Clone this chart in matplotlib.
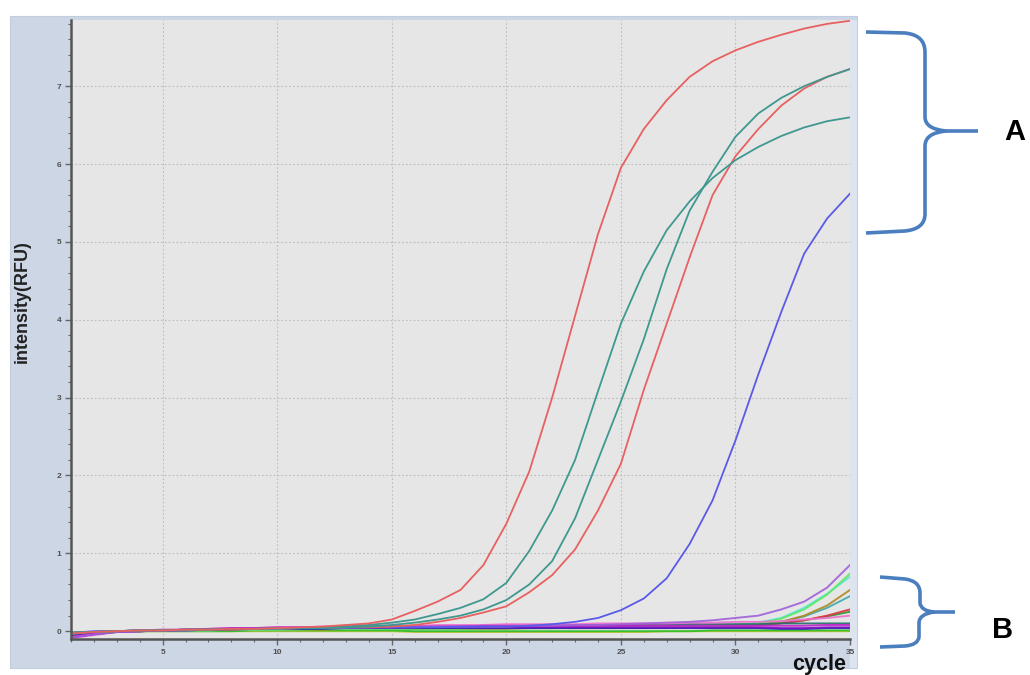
import matplotlib
matplotlib.use("Agg")
import matplotlib.pyplot as plt
from matplotlib.patches import Rectangle, PathPatch
from matplotlib.path import Path
from matplotlib.ticker import MultipleLocator

plt.rcParams['font.family'] = ['Liberation Sans', 'DejaVu Sans']

cycles = list(range(1, 36))

# curves that amplify (group A)
red_a = [-0.03, -0.01, 0.0, 0.01, 0.01, 0.02, 0.02, 0.03, 0.03, 0.04, 0.05, 0.06, 0.08, 0.10, 0.15,
         0.26, 0.38, 0.53, 0.85, 1.38, 2.05, 3.00, 4.05, 5.10, 5.95, 6.45, 6.82, 7.12, 7.32, 7.46,
         7.57, 7.66, 7.74, 7.80, 7.84]
teal_a = [-0.02, -0.01, 0.0, 0.01, 0.01, 0.02, 0.02, 0.03, 0.03, 0.04, 0.04, 0.05, 0.06, 0.08, 0.11,
          0.15, 0.22, 0.30, 0.41, 0.62, 1.03, 1.55, 2.20, 3.08, 3.95, 4.62, 5.15, 5.52, 5.82, 6.05,
          6.22, 6.36, 6.47, 6.55, 6.60]
teal_b = [-0.02, -0.01, 0.0, 0.01, 0.01, 0.02, 0.02, 0.03, 0.03, 0.03, 0.04, 0.04, 0.05, 0.06, 0.08,
          0.11, 0.15, 0.20, 0.28, 0.40, 0.60, 0.90, 1.45, 2.20, 2.95, 3.75, 4.65, 5.40, 5.90, 6.35,
          6.65, 6.85, 7.00, 7.12, 7.22]
red_b = [-0.02, -0.01, 0.0, 0.01, 0.01, 0.02, 0.02, 0.02, 0.03, 0.03, 0.04, 0.04, 0.05, 0.05, 0.06,
         0.08, 0.12, 0.17, 0.24, 0.32, 0.50, 0.72, 1.05, 1.55, 2.15, 3.10, 3.95, 4.80, 5.60, 6.10,
         6.45, 6.75, 6.97, 7.12, 7.22]
blue_a = [-0.02, 0.0, 0.0, 0.01, 0.01, 0.02, 0.02, 0.03, 0.03, 0.03, 0.04, 0.04, 0.04, 0.05, 0.05,
          0.05, 0.05, 0.06, 0.06, 0.06, 0.07, 0.09, 0.12, 0.17, 0.27, 0.42, 0.68, 1.12, 1.68, 2.45,
          3.30, 4.10, 4.85, 5.30, 5.62]

# late / non-amplifying curves (group B)
purple_b = [-0.08, -0.04, -0.01, 0.0, 0.01, 0.01, 0.02, 0.03, 0.03, 0.04, 0.04, 0.05, 0.05, 0.05, 0.05,
            0.05, 0.06, 0.06, 0.06, 0.06, 0.07, 0.07, 0.08, 0.08, 0.09, 0.10, 0.11, 0.12, 0.14, 0.17,
            0.20, 0.28, 0.38, 0.56, 0.85]
green_b = [-0.05, -0.02, 0.0, 0.0, 0.01, 0.01, 0.01, 0.02, 0.02, 0.02, 0.02, 0.03, 0.03, 0.03, 0.03,
           0.03, 0.03, 0.03, 0.04, 0.04, 0.04, 0.04, 0.04, 0.05, 0.05, 0.05, 0.05, 0.06, 0.07, 0.08,
           0.10, 0.16, 0.28, 0.47, 0.74]
cyan_b = [-0.04, -0.02, 0.0, 0.0, 0.01, 0.01, 0.01, 0.02, 0.02, 0.02, 0.03, 0.03, 0.03, 0.03, 0.03,
          0.04, 0.04, 0.04, 0.04, 0.04, 0.04, 0.05, 0.05, 0.05, 0.05, 0.05, 0.06, 0.06, 0.07, 0.08,
          0.11, 0.17, 0.30, 0.48, 0.70]
brown_b = [-0.03, -0.01, 0.0, 0.0, 0.01, 0.01, 0.01, 0.02, 0.02, 0.02, 0.02, 0.02, 0.03, 0.03, 0.03,
           0.03, 0.03, 0.03, 0.03, 0.03, 0.04, 0.04, 0.04, 0.04, 0.04, 0.04, 0.05, 0.05, 0.05, 0.06,
           0.08, 0.12, 0.20, 0.33, 0.53]
tealish_b = [-0.03, -0.01, 0.0, 0.01, 0.01, 0.01, 0.02, 0.02, 0.02, 0.03, 0.03, 0.03, 0.03, 0.04, 0.04,
             0.04, 0.04, 0.04, 0.04, 0.05, 0.05, 0.05, 0.05, 0.05, 0.05, 0.06, 0.06, 0.06, 0.06, 0.07,
             0.08, 0.12, 0.19, 0.30, 0.45]
red_c = [-0.05, -0.02, 0.0, 0.0, 0.01, 0.01, 0.02, 0.02, 0.03, 0.03, 0.03, 0.04, 0.04, 0.04, 0.04,
         0.04, 0.04, 0.05, 0.05, 0.05, 0.05, 0.05, 0.05, 0.06, 0.06, 0.06, 0.06, 0.06, 0.07, 0.07,
         0.08, 0.10, 0.14, 0.20, 0.28]
green_c = [-0.04, -0.02, 0.0, 0.0, 0.01, 0.01, 0.01, 0.02, 0.02, 0.02, 0.02, 0.03, 0.03, 0.03, 0.03,
           0.03, 0.04, 0.04, 0.04, 0.04, 0.04, 0.04, 0.05, 0.05, 0.05, 0.05, 0.06, 0.06, 0.07, 0.08,
           0.09, 0.11, 0.14, 0.19, 0.25]
pink_b = [-0.09, -0.05, -0.01, 0.0, 0.01, 0.02, 0.03, 0.04, 0.04, 0.05, 0.05, 0.06, 0.06, 0.07, 0.07,
          0.07, 0.08, 0.08, 0.08, 0.09, 0.09, 0.09, 0.09, 0.10, 0.10, 0.10, 0.10, 0.11, 0.11, 0.12,
          0.12, 0.13, 0.15, 0.17, 0.20]
darkteal_b = [-0.03, -0.01, 0.0, 0.01, 0.01, 0.02, 0.02, 0.03, 0.03, 0.04, 0.04, 0.05, 0.05, 0.05, 0.06,
              0.06, 0.06, 0.06, 0.07, 0.07, 0.07, 0.07, 0.08, 0.08, 0.08, 0.08, 0.08, 0.09, 0.09, 0.09,
              0.09, 0.10, 0.10, 0.10, 0.10]
magenta_b = [-0.07, -0.03, 0.0, 0.01, 0.02, 0.02, 0.03, 0.04, 0.04, 0.05, 0.05, 0.05, 0.06, 0.06, 0.06,
             0.06, 0.06, 0.06, 0.07, 0.07, 0.07, 0.07, 0.07, 0.07, 0.07, 0.07, 0.07, 0.07, 0.07, 0.07,
             0.07, 0.07, 0.07, 0.08, 0.08]
violet_b = [-0.08, -0.04, -0.01, 0.0, 0.01, 0.02, 0.02, 0.03, 0.03, 0.04, 0.04, 0.04, 0.05, 0.05, 0.05,
            0.05, 0.05, 0.05, 0.05, 0.05, 0.05, 0.05, 0.05, 0.05, 0.05, 0.05, 0.05, 0.05, 0.05, 0.05,
            0.05, 0.04, 0.04, 0.05, 0.05]
navy_b = [-0.06, -0.03, 0.0, 0.0, 0.01, 0.01, 0.02, 0.02, 0.03, 0.03, 0.03, 0.03, 0.04, 0.04, 0.04,
          0.04, 0.04, 0.04, 0.04, 0.04, 0.04, 0.04, 0.04, 0.04, 0.04, 0.04, 0.04, 0.04, 0.04, 0.04,
          0.04, 0.03, 0.03, 0.04, 0.04]
lime_b = [-0.02, -0.01, 0.0, 0.0, 0.0, 0.0, 0.0, 0.0, 0.01, 0.01, 0.01, 0.01, 0.01, 0.01, 0.01,
          0.0, 0.0, 0.0, 0.0, 0.0, 0.0, 0.0, 0.0, 0.0, 0.0, 0.0, 0.0, 0.0, 0.01, 0.01,
          0.01, 0.01, 0.01, 0.01, 0.01]
yellow_b = [-0.02, -0.01, 0.0, 0.0, 0.0, 0.0, 0.0, 0.0, 0.0, 0.0, 0.0, 0.0, 0.0, 0.0, 0.0,
            -0.01, -0.01, -0.01, -0.01, -0.01, -0.01, -0.01, -0.01, -0.01, -0.01, -0.01, 0.0, 0.0, 0.0, 0.0,
            0.0, 0.0, 0.0, 0.0, 0.0]

group_b = [
    (yellow_b, '#c8c030'), (lime_b, '#2ac02a'), (green_c, '#2a9a2a'), (red_c, '#e03040'),
    (tealish_b, '#40a8b0'), (brown_b, '#b08a20'), (cyan_b, '#50e8d8'), (green_b, '#60e860'),
    (darkteal_b, '#1f6f6a'), (pink_b, '#f070d0'), (navy_b, '#2020b0'), (violet_b, '#8010c8'),
    (magenta_b, '#c020c8'), (purple_b, '#a060d8'),
]
group_a = [
    (blue_a, '#5a5ae8'), (red_b, '#e86060'), (teal_b, '#3f9890'), (teal_a, '#3f9890'), (red_a, '#e86060'),
]

W, H = 1030, 675
fig = plt.figure(figsize=(W / 100, H / 100), dpi=100)
fig.patch.set_facecolor('white')

# light blue panel behind the plot
fig.patches.append(Rectangle((10 / W, 1 - 668 / H), 847 / W, 652 / H, transform=fig.transFigure,
                             facecolor='#cdd6e5', edgecolor='#c3cde0', lw=0.8, zorder=-10))
fig.patches.append(Rectangle((850 / W, 1 - 668 / H), 7 / W, 648 / H, transform=fig.transFigure,
                             facecolor='#dde4ef', edgecolor='none', zorder=-9))

ax = fig.add_axes([71 / W, 1 - 639 / H, 779 / W, 619 / H])
ax.set_zorder(1)
ax.set_facecolor('#e6e6e6')

for vals, col in group_b:
    ax.plot(cycles, vals, color=col, lw=1.4, alpha=0.9)
for vals, col in group_a:
    ax.plot(cycles, vals, color=col, lw=1.3)

ax.set_xlim(1, 35)
ax.set_ylim(-0.1, 7.85)
ax.xaxis.set_major_locator(MultipleLocator(5))
ax.xaxis.set_minor_locator(MultipleLocator(1))
ax.yaxis.set_major_locator(MultipleLocator(1))
ax.yaxis.set_minor_locator(MultipleLocator(0.2))
ax.grid(True, which='major', color='#bdbdbd', lw=0.8, ls=(0, (1.5, 2)))
ax.set_axisbelow(True)

for side in ('top', 'right'):
    ax.spines[side].set_visible(False)
for side in ('left', 'bottom'):
    ax.spines[side].set_color('#555555')
    ax.spines[side].set_linewidth(1.8)

ax.tick_params(which='major', direction='out', length=4, width=1, color='#666666', pad=3)
ax.tick_params(which='minor', direction='out', length=2.5, width=0.8, color='#666666')
ax.set_xticks([5, 10, 15, 20, 25, 30, 35])
ax.set_xticklabels(['5', '10', '15', '20', '25', '30', '35'], fontsize=6, fontweight='bold', color='#505050')
ax.set_yticks(range(0, 8))
ax.set_yticklabels([str(v) for v in range(0, 8)], fontsize=6, fontweight='bold', color='#505050')

fig.text(22 / W, 1 - 302 / H, 'intensity(RFU)', rotation=90, ha='center', va='center',
         fontsize=13, fontweight='bold', color='#222222')
fig.text(846 / W, 1 - 670 / H, 'cycle', ha='right', va='baseline',
         fontsize=15.5, fontweight='bold', color='#111111')


def brace(points):
    # points given in pixel coords from the top-left corner
    verts, codes = [], []
    for kind, pts in points:
        for p in pts:
            verts.append((p[0] / W, 1 - p[1] / H))
        codes += {'M': [Path.MOVETO], 'L': [Path.LINETO], 'Q': [Path.CURVE3, Path.CURVE3]}[kind]
    patch = PathPatch(Path(verts, codes), transform=fig.transFigure, fill=False,
                      edgecolor='#4a7ebe', lw=2.6, capstyle='butt', joinstyle='round')
    fig.patches.append(patch)


brace([('M', [(866, 32)]), ('L', [(905, 33)]), ('Q', [(925, 35), (925, 52)]), ('L', [(925, 117)]),
       ('Q', [(925, 129), (946, 131)]), ('L', [(978, 131)]),
       ('M', [(946, 131)]), ('Q', [(925, 133), (925, 146)]), ('L', [(925, 214)]),
       ('Q', [(925, 229), (905, 231)]), ('L', [(866, 233)])])
brace([('M', [(880, 577)]), ('L', [(905, 579)]), ('Q', [(920, 581), (920, 593)]), ('L', [(920, 603)]),
       ('Q', [(921, 611), (934, 612)]), ('L', [(955, 612)]),
       ('M', [(934, 612)]), ('Q', [(919, 614), (919, 623)]), ('L', [(919, 637)]),
       ('Q', [(918, 645), (905, 646)]), ('L', [(880, 647)])])

fig.text(1015 / W, 1 - 132 / H, 'A', ha='center', va='center', fontsize=21, fontweight='bold', color='black')
fig.text(1003 / W, 1 - 630 / H, 'B', ha='center', va='center', fontsize=21, fontweight='bold', color='black')

fig.savefig('out.png', dpi=100)
